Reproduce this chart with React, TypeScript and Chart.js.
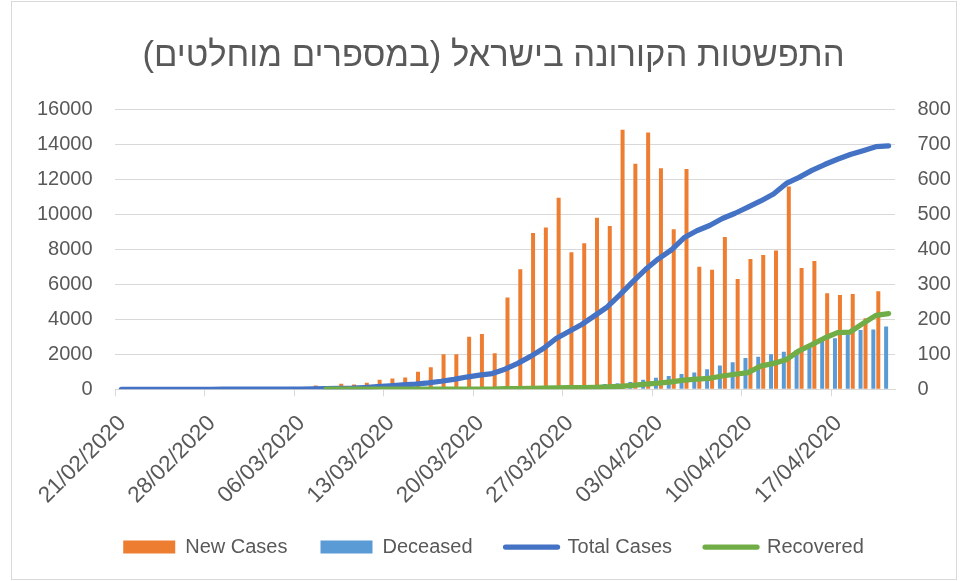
import React, { useEffect, useRef } from 'react';
import { Chart, registerables } from 'chart.js';

Chart.register(...registerables);

const TITLE = 'התפשטות הקורונה בישראל (במספרים מוחלטים)';

const DATES = [
  '21/02/2020', '22/02/2020', '23/02/2020', '24/02/2020', '25/02/2020', '26/02/2020', '27/02/2020',
  '28/02/2020', '29/02/2020', '01/03/2020', '02/03/2020', '03/03/2020', '04/03/2020', '05/03/2020',
  '06/03/2020', '07/03/2020', '08/03/2020', '09/03/2020', '10/03/2020', '11/03/2020', '12/03/2020',
  '13/03/2020', '14/03/2020', '15/03/2020', '16/03/2020', '17/03/2020', '18/03/2020', '19/03/2020',
  '20/03/2020', '21/03/2020', '22/03/2020', '23/03/2020', '24/03/2020', '25/03/2020', '26/03/2020',
  '27/03/2020', '28/03/2020', '29/03/2020', '30/03/2020', '31/03/2020', '01/04/2020', '02/04/2020',
  '03/04/2020', '04/04/2020', '05/04/2020', '06/04/2020', '07/04/2020', '08/04/2020', '09/04/2020',
  '10/04/2020', '11/04/2020', '12/04/2020', '13/04/2020', '14/04/2020', '15/04/2020', '16/04/2020',
  '17/04/2020', '18/04/2020', '19/04/2020', '20/04/2020', '21/04/2020',
];

// Right axis (0-800)
const NEW_CASES = [
  1, 0, 0, 0, 0, 0, 1, 0, 1, 3, 2, 2, 3, 3, 2,
  11, 4, 16, 14, 19, 27, 31, 34, 50, 63, 100, 100, 150, 158, 103,
  262, 343, 446, 462, 547, 391, 417, 490, 466, 741, 644, 733, 631, 457, 629,
  350, 341, 435, 315, 372, 383, 396, 579, 346, 366, 274, 269, 272, 203, 280,
  null,
];

const DECEASED = [
  null, null, null, null, null, null, null, null, null, null, null, null, null, null, null,
  null, null, null, null, null, null, null, null, null, null, null, null, null, 1, 1,
  1, 1, 3, 5, 8, 10, 12, 12, 15, 17, 21, 27, 33, 38, 44,
  48, 57, 68, 77, 89, 93, 100, 107, 112, 119, 141, 146, 157, 169, 171,
  179,
];

// Left axis (0-16000)
const TOTAL_CASES = [
  1, 1, 1, 1, 1, 1, 2, 2, 3, 7, 10, 10, 12, 15, 17,
  25, 39, 50, 65, 100, 150, 200, 250, 300, 370, 460, 570, 700, 810, 900,
  1150, 1480, 1880, 2330, 2900, 3300, 3700, 4200, 4700, 5400, 6150, 6850, 7450, 7950, 8650,
  9050, 9350, 9750, 10050, 10400, 10750, 11150, 11750, 12100, 12500, 12830, 13130, 13400, 13620, 13850,
  13900,
];

const RECOVERED = [
  null, null, null, null, null, null, null, null, null, null, null, null, null, null, null,
  null, 4, 4, 4, 4, 4, 4, 4, 4, 11, 11, 11, 14, 14, 15,
  37, 41, 57, 68, 79, 89, 95, 110, 132, 161, 230, 300, 350, 430, 520,
  580, 630, 760, 860, 950, 1320, 1480, 1690, 2200, 2550, 2930, 3240, 3270, 3760, 4220,
  4320,
];

const SERIES_NAMES = ['New Cases', 'Deceased', 'Total Cases', 'Recovered'];
const COLORS = ['#ED7D31', '#5B9BD5', '#4472C4', '#70AD47'];

const FONT = 'Liberation Sans';
const TEXT = '#595959';
const GRID = '#D9D9D9';
const LINE_W = 5.25;

export default function App() {
  const ref = useRef<HTMLCanvasElement>(null);

  useEffect(() => {
    if (!ref.current) return;
    Chart.defaults.font.family = FONT;
    const chart = new Chart(ref.current, {
      type: 'bar',
      data: {
        labels: DATES,
        datasets: [
          {
            type: 'bar',
            label: SERIES_NAMES[0],
            data: NEW_CASES,
            yAxisID: 'y1',
            backgroundColor: COLORS[0],
            borderWidth: 0,
            categoryPercentage: 0.78,
            barPercentage: 0.8,
            order: 3,
          },
          {
            type: 'bar',
            label: SERIES_NAMES[1],
            data: DECEASED,
            yAxisID: 'y1',
            backgroundColor: COLORS[1],
            borderWidth: 0,
            categoryPercentage: 0.78,
            barPercentage: 0.8,
            order: 2,
          },
          {
            type: 'line',
            label: SERIES_NAMES[2],
            data: TOTAL_CASES,
            yAxisID: 'y',
            borderColor: COLORS[2],
            backgroundColor: COLORS[2],
            borderWidth: LINE_W,
            pointRadius: 0,
            pointHoverRadius: 0,
            tension: 0,
            borderCapStyle: 'round',
            borderJoinStyle: 'round',
            order: 1,
          },
          {
            type: 'line',
            label: SERIES_NAMES[3],
            data: RECOVERED,
            yAxisID: 'y',
            borderColor: COLORS[3],
            backgroundColor: COLORS[3],
            borderWidth: LINE_W,
            pointRadius: 0,
            pointHoverRadius: 0,
            tension: 0,
            borderCapStyle: 'round',
            borderJoinStyle: 'round',
            order: 0,
          },
        ] as any,
      },
      options: {
        responsive: false,
        animation: false,
        devicePixelRatio: 1,
        layout: { padding: { left: 20, right: 0, top: 0, bottom: 14 } },
        plugins: {
          tooltip: { enabled: false },
          title: {
            display: true,
            text: '\u200F' + TITLE + '\u200F',
            color: TEXT,
            font: { family: FONT, size: 34.6, weight: 'normal' },
            padding: { top: 36.2, bottom: 31.3 },
          },
          legend: {
            display: true,
            position: 'bottom',
            align: 'center',
            labels: {
              color: TEXT,
              font: { family: FONT, size: 20 },
              usePointStyle: true,
              pointStyleWidth: 52,
              boxWidth: 52,
              boxHeight: 13,
              padding: 33,
              generateLabels: (c: any) => {
                const items = (Chart.defaults.plugins.legend.labels as any).generateLabels(c);
                items.forEach((it: any) => {
                  const ds: any = c.data.datasets[it.datasetIndex];
                  if (ds.type === 'line') {
                    it.pointStyle = 'line';
                    it.lineWidth = LINE_W;
                    it.lineCap = 'round';
                    it.strokeStyle = ds.borderColor;
                    it.fillStyle = ds.borderColor;
                  } else {
                    it.pointStyle = 'rect';
                    it.lineWidth = 0;
                    it.fillStyle = ds.backgroundColor;
                    it.strokeStyle = ds.backgroundColor;
                  }
                });
                return items.sort((a: any, b: any) => a.datasetIndex - b.datasetIndex);
              },
            },
          },
        },
        scales: {
          x: {
            type: 'category',
            offset: true,
            grid: {
              offset: true,
              drawOnChartArea: false,
              drawTicks: true,
              tickLength: 7,
              lineWidth: 1,
              color: (ctx: any) => (ctx.index % 7 === 0 ? GRID : 'rgba(0,0,0,0)'),
            },
            border: { display: true, color: GRID, width: 1 },
            ticks: {
              autoSkip: false,
              maxRotation: 45,
              minRotation: 45,
              padding: 14,
              labelOffset: 1,
              color: TEXT,
              font: { family: FONT, size: 22.5 },
              callback: (_v: any, i: number) => (i % 7 === 0 ? DATES[i] : ''),
            },
            afterFit: (s: any) => {
              s.height = 114.7;
            },
          },
          y: {
            position: 'left',
            min: 0,
            max: 16000,
            grid: { color: GRID, drawTicks: false, lineWidth: 1 },
            border: { display: false },
            ticks: {
              stepSize: 2000,
              padding: 22.5,
              color: TEXT,
              font: { family: FONT, size: 20 },
              callback: (v: any) => String(v),
            },
            afterFit: (s: any) => {
              s.width = 95;
            },
          },
          y1: {
            position: 'right',
            min: 0,
            max: 800,
            grid: { drawOnChartArea: false, drawTicks: false },
            border: { display: false },
            ticks: {
              stepSize: 100,
              padding: 22.5,
              color: TEXT,
              font: { family: FONT, size: 20 },
              callback: (v: any) => String(v),
            },
            afterFit: (s: any) => {
              s.width = 72;
            },
          },
        },
      } as any,
    });
    return () => chart.destroy();
  }, []);

  return (
    <div style={{ position: 'absolute', left: 0, top: 0, width: 967, height: 581, background: '#fff' }}>
      <canvas ref={ref} width={967} height={581} style={{ position: 'absolute', left: 0, top: 0, width: 967, height: 581 }} />
      <div
        style={{
          position: 'absolute',
          left: 11,
          top: 1,
          width: 944,
          height: 577,
          border: '1px solid #D9D9D9',
          pointerEvents: 'none',
        }}
      />
    </div>
  );
}
